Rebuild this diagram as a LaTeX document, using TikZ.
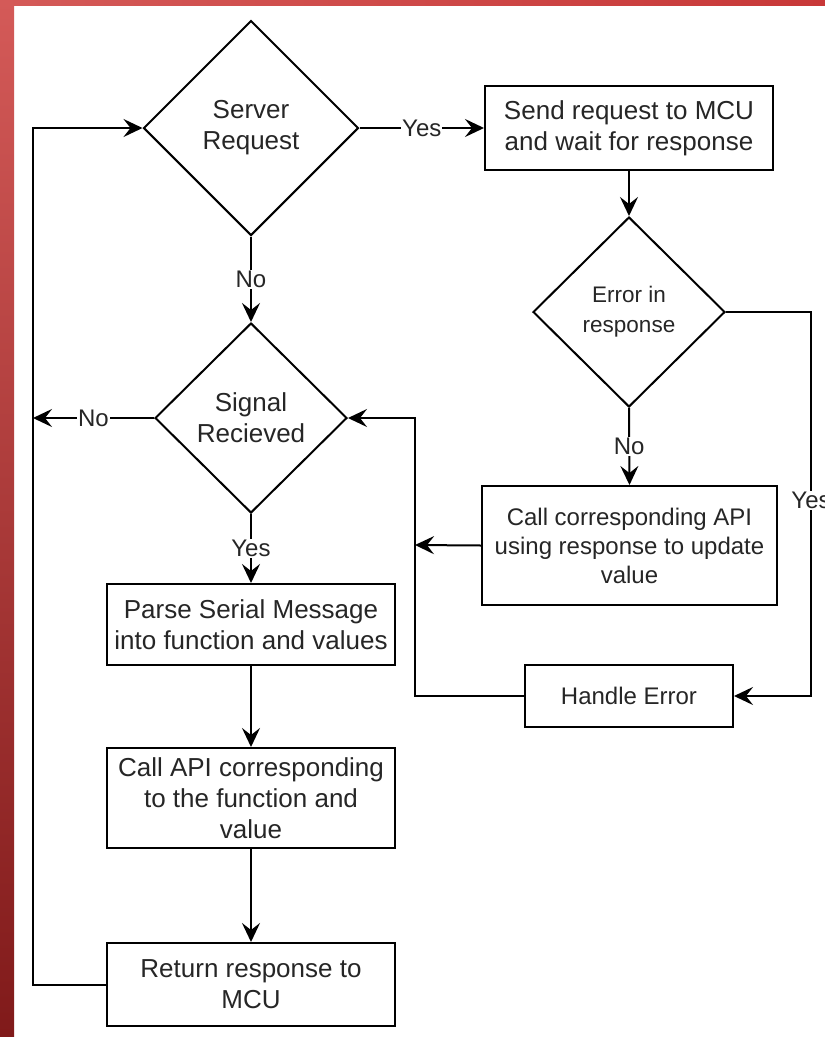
\documentclass[tikz,border=0pt]{standalone}
\usepackage{fontspec}
\setmainfont{Liberation Sans}
\usetikzlibrary{shapes.geometric,arrows.meta}
\definecolor{framehi}{RGB}{212,90,88}
\definecolor{framelo}{RGB}{128,26,26}
\definecolor{frametr}{RGB}{200,56,56}
\begin{document}
\begin{tikzpicture}[x=1pt,y=-1pt,
  every node/.style={font=\fontsize{26}{31}\selectfont, align=center, text=black!85},
  small/.style={font=\fontsize{24}{29}\selectfont},
  box/.style={draw, line width=2pt, inner sep=0pt},
  decision/.style={draw, diamond, line width=2pt, inner sep=0pt, aspect=1},
  lbl/.style={fill=white, inner sep=1pt, font=\fontsize{24}{28}\selectfont},
  link/.style={line width=2pt, -{Stealth[length=19pt,width=18pt,inset=7pt]}},
]
\useasboundingbox (0,0) rectangle (825,1037);
\fill[white] (0,0) rectangle (825,1037);
% red frame on the left and top edges
\shade[top color=framehi, bottom color=framelo] (0,0) rectangle (14,1037);
\shade[left color=framehi, right color=frametr] (0,0) rectangle (825,5);

% decisions
\node[decision, minimum width=215pt, minimum height=215pt] (srv) at (251,128) {Server\\Request};
\node[decision, minimum width=192pt, minimum height=190pt, font=\fontsize{22.5}{30}\selectfont] (err) at (629,312) {Error in\\response};
\node[decision, minimum width=192pt, minimum height=190pt] (sig) at (251,418) {Signal\\Recieved};

% process boxes
\node[box, minimum width=288pt, minimum height=84pt] (send) at (629,128) {Send request to MCU\\and wait for response};
\node[box, small, minimum width=295pt, minimum height=119pt] (call) at (629.5,545.5) {Call corresponding API\\using response to update\\value};
\node[box, small, minimum width=208pt, minimum height=62pt] (hand) at (629,696) {Handle Error};
\node[box, minimum width=288pt, minimum height=81pt] (parse) at (251,624.5) {Parse Serial Message\\into function and values};
\node[box, minimum width=288pt, minimum height=100pt] (capi) at (251,798) {Call API corresponding\\to the function and\\value};
\node[box, minimum width=288pt, minimum height=83pt] (ret) at (251,984.5) {Return response to\\MCU};

% routing points
\coordinate (ecorner) at (811,312);
\coordinate (jr) at (415,418);
\coordinate (jc) at (415,545);
\coordinate (lt) at (33,128);
\coordinate (ln) at (33,418);

% connectors
\draw[link] (srv.east) -- node[lbl]{Yes} (send.west);
\draw[link] (srv.south) -- node[lbl]{No} (sig.north);
\draw[link] (send.south) -- (err.north);
\draw[link] (err.south) -- node[lbl]{No} (call.north);
\draw[link] (err.east) -- (ecorner) |- node[lbl, pos=0.245]{Yes} (hand.east);
\draw[link] (hand.west) -| (jr) -- (sig.east);
\draw[link] (call.west) -- (jc);
\draw[link] (sig.west) -- node[lbl]{No} (ln);
\draw[link] (sig.south) -- node[lbl]{Yes} (parse.north);
\draw[link] (parse.south) -- (capi.north);
\draw[link] (capi.south) -- (ret.north);
\draw[link] (ret.west) -| (lt) -- (srv.west);
\end{tikzpicture}
\end{document}
